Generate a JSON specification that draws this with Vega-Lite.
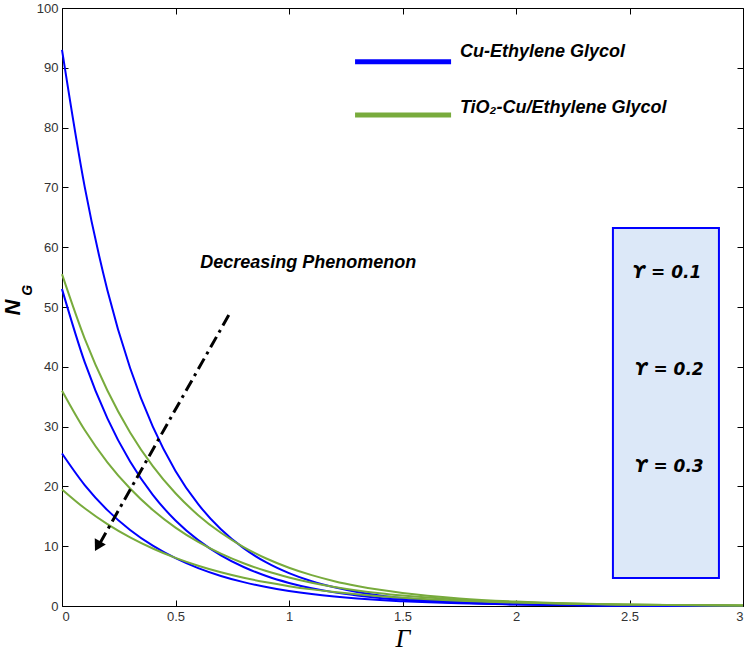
{
  "$schema": "https://vega.github.io/schema/vega-lite/v6.json",
  "width": 681,
  "height": 598,
  "autosize": {"type": "none"},
  "padding": {"left": 62, "top": 8, "right": 6, "bottom": 49},
  "background": "white",
  "config": {
    "view": {"stroke": "#000000", "strokeWidth": 1},
    "axis": {
      "domain": false,
      "grid": false,
      "tickColor": "#000000",
      "tickSize": -6,
      "tickWidth": 1,
      "labelFont": "Liberation Sans",
      "labelFontSize": 13,
      "labelColor": "#333333",
      "labelPadding": 10
    }
  },
  "datasets": {
    "curves": [
      {"series": "B1", "fluid": "Cu", "x": 0, "y": 93},
      {"series": "B1", "fluid": "Cu", "x": 0.1, "y": 70.08},
      {"series": "B1", "fluid": "Cu", "x": 0.2, "y": 52.81},
      {"series": "B1", "fluid": "Cu", "x": 0.3, "y": 39.79},
      {"series": "B1", "fluid": "Cu", "x": 0.4, "y": 29.98},
      {"series": "B1", "fluid": "Cu", "x": 0.5, "y": 22.59},
      {"series": "B1", "fluid": "Cu", "x": 0.6, "y": 17.02},
      {"series": "B1", "fluid": "Cu", "x": 0.7, "y": 12.83},
      {"series": "B1", "fluid": "Cu", "x": 0.8, "y": 9.67},
      {"series": "B1", "fluid": "Cu", "x": 0.9, "y": 7.28},
      {"series": "B1", "fluid": "Cu", "x": 1.0, "y": 5.49},
      {"series": "B1", "fluid": "Cu", "x": 1.1, "y": 4.13},
      {"series": "B1", "fluid": "Cu", "x": 1.2, "y": 3.12},
      {"series": "B1", "fluid": "Cu", "x": 1.3, "y": 2.35},
      {"series": "B1", "fluid": "Cu", "x": 1.4, "y": 1.77},
      {"series": "B1", "fluid": "Cu", "x": 1.5, "y": 1.33},
      {"series": "B1", "fluid": "Cu", "x": 1.75, "y": 0.66},
      {"series": "B1", "fluid": "Cu", "x": 2.0, "y": 0.32},
      {"series": "B1", "fluid": "Cu", "x": 2.25, "y": 0.16},
      {"series": "B1", "fluid": "Cu", "x": 2.5, "y": 0.08},
      {"series": "B1", "fluid": "Cu", "x": 2.75, "y": 0.04},
      {"series": "B1", "fluid": "Cu", "x": 3.0, "y": 0.02},
      {"series": "B2", "fluid": "Cu", "x": 0, "y": 53},
      {"series": "B2", "fluid": "Cu", "x": 0.1, "y": 40.78},
      {"series": "B2", "fluid": "Cu", "x": 0.2, "y": 31.38},
      {"series": "B2", "fluid": "Cu", "x": 0.3, "y": 24.15},
      {"series": "B2", "fluid": "Cu", "x": 0.4, "y": 18.58},
      {"series": "B2", "fluid": "Cu", "x": 0.5, "y": 14.30},
      {"series": "B2", "fluid": "Cu", "x": 0.6, "y": 11.01},
      {"series": "B2", "fluid": "Cu", "x": 0.7, "y": 8.47},
      {"series": "B2", "fluid": "Cu", "x": 0.8, "y": 6.52},
      {"series": "B2", "fluid": "Cu", "x": 0.9, "y": 5.01},
      {"series": "B2", "fluid": "Cu", "x": 1.0, "y": 3.86},
      {"series": "B2", "fluid": "Cu", "x": 1.1, "y": 2.97},
      {"series": "B2", "fluid": "Cu", "x": 1.2, "y": 2.28},
      {"series": "B2", "fluid": "Cu", "x": 1.3, "y": 1.76},
      {"series": "B2", "fluid": "Cu", "x": 1.4, "y": 1.35},
      {"series": "B2", "fluid": "Cu", "x": 1.5, "y": 1.04},
      {"series": "B2", "fluid": "Cu", "x": 1.75, "y": 0.54},
      {"series": "B2", "fluid": "Cu", "x": 2.0, "y": 0.28},
      {"series": "B2", "fluid": "Cu", "x": 2.25, "y": 0.15},
      {"series": "B2", "fluid": "Cu", "x": 2.5, "y": 0.08},
      {"series": "B2", "fluid": "Cu", "x": 2.75, "y": 0.04},
      {"series": "B2", "fluid": "Cu", "x": 3.0, "y": 0.02},
      {"series": "B3", "fluid": "Cu", "x": 0, "y": 25.5},
      {"series": "B3", "fluid": "Cu", "x": 0.1, "y": 20.22},
      {"series": "B3", "fluid": "Cu", "x": 0.2, "y": 16.03},
      {"series": "B3", "fluid": "Cu", "x": 0.3, "y": 12.71},
      {"series": "B3", "fluid": "Cu", "x": 0.4, "y": 10.08},
      {"series": "B3", "fluid": "Cu", "x": 0.5, "y": 7.99},
      {"series": "B3", "fluid": "Cu", "x": 0.6, "y": 6.34},
      {"series": "B3", "fluid": "Cu", "x": 0.7, "y": 5.03},
      {"series": "B3", "fluid": "Cu", "x": 0.8, "y": 3.99},
      {"series": "B3", "fluid": "Cu", "x": 0.9, "y": 3.16},
      {"series": "B3", "fluid": "Cu", "x": 1.0, "y": 2.51},
      {"series": "B3", "fluid": "Cu", "x": 1.1, "y": 1.99},
      {"series": "B3", "fluid": "Cu", "x": 1.2, "y": 1.58},
      {"series": "B3", "fluid": "Cu", "x": 1.3, "y": 1.25},
      {"series": "B3", "fluid": "Cu", "x": 1.4, "y": 0.99},
      {"series": "B3", "fluid": "Cu", "x": 1.5, "y": 0.79},
      {"series": "B3", "fluid": "Cu", "x": 1.75, "y": 0.44},
      {"series": "B3", "fluid": "Cu", "x": 2.0, "y": 0.25},
      {"series": "B3", "fluid": "Cu", "x": 2.25, "y": 0.14},
      {"series": "B3", "fluid": "Cu", "x": 2.5, "y": 0.08},
      {"series": "B3", "fluid": "Cu", "x": 2.75, "y": 0.04},
      {"series": "B3", "fluid": "Cu", "x": 3.0, "y": 0.02},
      {"series": "G1", "fluid": "TiO2", "x": 0, "y": 55.5},
      {"series": "G1", "fluid": "TiO2", "x": 0.1, "y": 44.72},
      {"series": "G1", "fluid": "TiO2", "x": 0.2, "y": 36.03},
      {"series": "G1", "fluid": "TiO2", "x": 0.3, "y": 29.03},
      {"series": "G1", "fluid": "TiO2", "x": 0.4, "y": 23.39},
      {"series": "G1", "fluid": "TiO2", "x": 0.5, "y": 18.85},
      {"series": "G1", "fluid": "TiO2", "x": 0.6, "y": 15.19},
      {"series": "G1", "fluid": "TiO2", "x": 0.7, "y": 12.24},
      {"series": "G1", "fluid": "TiO2", "x": 0.8, "y": 9.86},
      {"series": "G1", "fluid": "TiO2", "x": 0.9, "y": 7.94},
      {"series": "G1", "fluid": "TiO2", "x": 1.0, "y": 6.40},
      {"series": "G1", "fluid": "TiO2", "x": 1.1, "y": 5.16},
      {"series": "G1", "fluid": "TiO2", "x": 1.2, "y": 4.15},
      {"series": "G1", "fluid": "TiO2", "x": 1.3, "y": 3.35},
      {"series": "G1", "fluid": "TiO2", "x": 1.4, "y": 2.70},
      {"series": "G1", "fluid": "TiO2", "x": 1.5, "y": 2.17},
      {"series": "G1", "fluid": "TiO2", "x": 1.75, "y": 1.27},
      {"series": "G1", "fluid": "TiO2", "x": 2.0, "y": 0.74},
      {"series": "G1", "fluid": "TiO2", "x": 2.25, "y": 0.43},
      {"series": "G1", "fluid": "TiO2", "x": 2.5, "y": 0.25},
      {"series": "G1", "fluid": "TiO2", "x": 2.75, "y": 0.15},
      {"series": "G1", "fluid": "TiO2", "x": 3.0, "y": 0.09},
      {"series": "G2", "fluid": "TiO2", "x": 0, "y": 36},
      {"series": "G2", "fluid": "TiO2", "x": 0.1, "y": 29.42},
      {"series": "G2", "fluid": "TiO2", "x": 0.2, "y": 24.03},
      {"series": "G2", "fluid": "TiO2", "x": 0.3, "y": 19.64},
      {"series": "G2", "fluid": "TiO2", "x": 0.4, "y": 16.05},
      {"series": "G2", "fluid": "TiO2", "x": 0.5, "y": 13.11},
      {"series": "G2", "fluid": "TiO2", "x": 0.6, "y": 10.71},
      {"series": "G2", "fluid": "TiO2", "x": 0.7, "y": 8.75},
      {"series": "G2", "fluid": "TiO2", "x": 0.8, "y": 7.15},
      {"series": "G2", "fluid": "TiO2", "x": 0.9, "y": 5.84},
      {"series": "G2", "fluid": "TiO2", "x": 1.0, "y": 4.78},
      {"series": "G2", "fluid": "TiO2", "x": 1.1, "y": 3.90},
      {"series": "G2", "fluid": "TiO2", "x": 1.2, "y": 3.19},
      {"series": "G2", "fluid": "TiO2", "x": 1.3, "y": 2.61},
      {"series": "G2", "fluid": "TiO2", "x": 1.4, "y": 2.13},
      {"series": "G2", "fluid": "TiO2", "x": 1.5, "y": 1.74},
      {"series": "G2", "fluid": "TiO2", "x": 1.75, "y": 1.05},
      {"series": "G2", "fluid": "TiO2", "x": 2.0, "y": 0.63},
      {"series": "G2", "fluid": "TiO2", "x": 2.25, "y": 0.38},
      {"series": "G2", "fluid": "TiO2", "x": 2.5, "y": 0.23},
      {"series": "G2", "fluid": "TiO2", "x": 2.75, "y": 0.14},
      {"series": "G2", "fluid": "TiO2", "x": 3.0, "y": 0.08},
      {"series": "G3", "fluid": "TiO2", "x": 0, "y": 19.5},
      {"series": "G3", "fluid": "TiO2", "x": 0.1, "y": 16.34},
      {"series": "G3", "fluid": "TiO2", "x": 0.2, "y": 13.69},
      {"series": "G3", "fluid": "TiO2", "x": 0.3, "y": 11.47},
      {"series": "G3", "fluid": "TiO2", "x": 0.4, "y": 9.61},
      {"series": "G3", "fluid": "TiO2", "x": 0.5, "y": 8.05},
      {"series": "G3", "fluid": "TiO2", "x": 0.6, "y": 6.74},
      {"series": "G3", "fluid": "TiO2", "x": 0.7, "y": 5.65},
      {"series": "G3", "fluid": "TiO2", "x": 0.8, "y": 4.73},
      {"series": "G3", "fluid": "TiO2", "x": 0.9, "y": 3.96},
      {"series": "G3", "fluid": "TiO2", "x": 1.0, "y": 3.32},
      {"series": "G3", "fluid": "TiO2", "x": 1.1, "y": 2.78},
      {"series": "G3", "fluid": "TiO2", "x": 1.2, "y": 2.33},
      {"series": "G3", "fluid": "TiO2", "x": 1.3, "y": 1.95},
      {"series": "G3", "fluid": "TiO2", "x": 1.4, "y": 1.64},
      {"series": "G3", "fluid": "TiO2", "x": 1.5, "y": 1.37},
      {"series": "G3", "fluid": "TiO2", "x": 1.75, "y": 0.88},
      {"series": "G3", "fluid": "TiO2", "x": 2.0, "y": 0.57},
      {"series": "G3", "fluid": "TiO2", "x": 2.25, "y": 0.36},
      {"series": "G3", "fluid": "TiO2", "x": 2.5, "y": 0.23},
      {"series": "G3", "fluid": "TiO2", "x": 2.75, "y": 0.15},
      {"series": "G3", "fluid": "TiO2", "x": 3.0, "y": 0.10}
    ],
    "legendLines": [
      {"item": "a", "fluid": "Cu", "x": 1.291, "y": 91.0},
      {"item": "a", "fluid": "Cu", "x": 1.714, "y": 91.0},
      {"item": "b", "fluid": "TiO2", "x": 1.291, "y": 82.1},
      {"item": "b", "fluid": "TiO2", "x": 1.714, "y": 82.1}
    ],
    "legendText": [
      {"x": 1.753, "y": 92.6, "label": "Cu-Ethylene Glycol"},
      {"x": 1.753, "y": 83.3, "label": "TiO₂-Cu/Ethylene Glycol"}
    ],
    "box": [
      {"x1": 2.427, "x2": 2.894, "y1": 4.7, "y2": 63.2}
    ],
    "boxText": [
      {"x": 2.665, "y": 55.7, "label": "ϒ = 0.1"},
      {"x": 2.675, "y": 39.5, "label": "ϒ  = 0.2"},
      {"x": 2.675, "y": 23.3, "label": "ϒ  = 0.3"}
    ],
    "note": [
      {"x": 1.085, "y": 57.4, "label": "Decreasing Phenomenon"}
    ],
    "arrow": [
      {"x": 0.740, "y": 49.0},
      {"x": 0.167, "y": 10.5}
    ],
    "arrowHead": [
      {"x": 0.157, "y": 10.0}
    ],
    "sub": [
      {"x": -0.15, "y": 52.8, "label": "G"}
    ]
  },
  "resolve": {"axis": {"x": "independent", "y": "independent"}},
  "layer": [
    {
      "data": {"name": "box"},
      "mark": {"type": "point", "opacity": 0},
      "encoding": {
        "x": {"field": "x1", "type": "quantitative", "scale": {"domain": [0, 3], "nice": false},
              "axis": {"orient": "top", "values": [0, 0.5, 1, 1.5, 2, 2.5, 3], "labels": false, "title": null}},
        "y": {"field": "y1", "type": "quantitative", "scale": {"domain": [0, 100], "nice": false},
              "axis": {"orient": "right", "values": [0, 10, 20, 30, 40, 50, 60, 70, 80, 90, 100], "labels": false, "title": null}}
      }
    },
    {
      "data": {"name": "curves"},
      "mark": {"type": "line", "strokeWidth": 2, "interpolate": "monotone"},
      "encoding": {
        "x": {"field": "x", "type": "quantitative",
              "axis": {"orient": "bottom", "values": [0, 0.5, 1, 1.5, 2, 2.5, 3], "format": "~g",
                       "title": "Γ", "titleFont": "Liberation Serif", "titleFontStyle": "italic", "titleFontWeight": "normal",
                       "titleFontSize": 26, "titleColor": "#000000", "titlePadding": 2}},
        "y": {"field": "y", "type": "quantitative",
              "axis": {"orient": "left", "values": [0, 10, 20, 30, 40, 50, 60, 70, 80, 90, 100],
                       "title": "N", "titleFont": "Liberation Sans", "titleFontStyle": "italic", "titleFontWeight": "bold",
                       "titleFontSize": 22, "titleColor": "#000000", "titlePadding": 12}},
        "color": {"field": "fluid", "type": "nominal", "scale": {"domain": ["Cu", "TiO2"], "range": ["#0000ff", "#78ab3c"]}, "legend": null},
        "detail": {"field": "series"}
      }
    },
    {
      "data": {"name": "legendLines"},
      "mark": {"type": "line", "strokeWidth": 5},
      "encoding": {
        "x": {"field": "x", "type": "quantitative", "axis": null},
        "y": {"field": "y", "type": "quantitative", "axis": null},
        "color": {"field": "fluid", "type": "nominal", "legend": null},
        "detail": {"field": "item"}
      }
    },
    {
      "data": {"name": "legendText"},
      "mark": {"type": "text", "align": "left", "baseline": "middle", "font": "Liberation Sans", "fontStyle": "italic", "fontWeight": "bold", "fontSize": 18, "color": "#000000"},
      "encoding": {
        "x": {"field": "x", "type": "quantitative", "axis": null},
        "y": {"field": "y", "type": "quantitative", "axis": null},
        "text": {"field": "label"}
      }
    },
    {
      "data": {"name": "box"},
      "mark": {"type": "rect", "fill": "#dce8f8", "stroke": "#0000ff", "strokeWidth": 2},
      "encoding": {
        "x": {"field": "x1", "type": "quantitative", "axis": null},
        "x2": {"field": "x2"},
        "y": {"field": "y1", "type": "quantitative", "axis": null},
        "y2": {"field": "y2"}
      }
    },
    {
      "data": {"name": "boxText"},
      "mark": {"type": "text", "align": "center", "baseline": "middle", "font": "DejaVu Sans", "fontStyle": "italic", "fontWeight": "bold", "fontSize": 17, "color": "#000000"},
      "encoding": {
        "x": {"field": "x", "type": "quantitative", "axis": null},
        "y": {"field": "y", "type": "quantitative", "axis": null},
        "text": {"field": "label"}
      }
    },
    {
      "data": {"name": "note"},
      "mark": {"type": "text", "align": "center", "baseline": "middle", "font": "Liberation Sans", "fontStyle": "italic", "fontWeight": "bold", "fontSize": 18, "color": "#000000"},
      "encoding": {
        "x": {"field": "x", "type": "quantitative", "axis": null},
        "y": {"field": "y", "type": "quantitative", "axis": null},
        "text": {"field": "label"}
      }
    },
    {
      "data": {"name": "arrow"},
      "mark": {"type": "line", "color": "#000000", "strokeWidth": 3, "strokeDash": [12, 5, 3, 5]},
      "encoding": {
        "x": {"field": "x", "type": "quantitative", "axis": null},
        "y": {"field": "y", "type": "quantitative", "axis": null}
      }
    },
    {
      "data": {"name": "arrowHead"},
      "mark": {"type": "point", "shape": "triangle-down", "filled": true, "color": "#000000", "size": 160, "opacity": 1, "angle": 29},
      "encoding": {
        "x": {"field": "x", "type": "quantitative", "axis": null},
        "y": {"field": "y", "type": "quantitative", "axis": null}
      }
    },
    {
      "data": {"name": "sub"},
      "mark": {"type": "text", "align": "center", "baseline": "middle", "angle": 270, "font": "Liberation Sans", "fontStyle": "italic", "fontWeight": "bold", "fontSize": 14, "color": "#000000"},
      "encoding": {
        "x": {"field": "x", "type": "quantitative", "axis": null},
        "y": {"field": "y", "type": "quantitative", "axis": null},
        "text": {"field": "label"}
      }
    }
  ]
}
